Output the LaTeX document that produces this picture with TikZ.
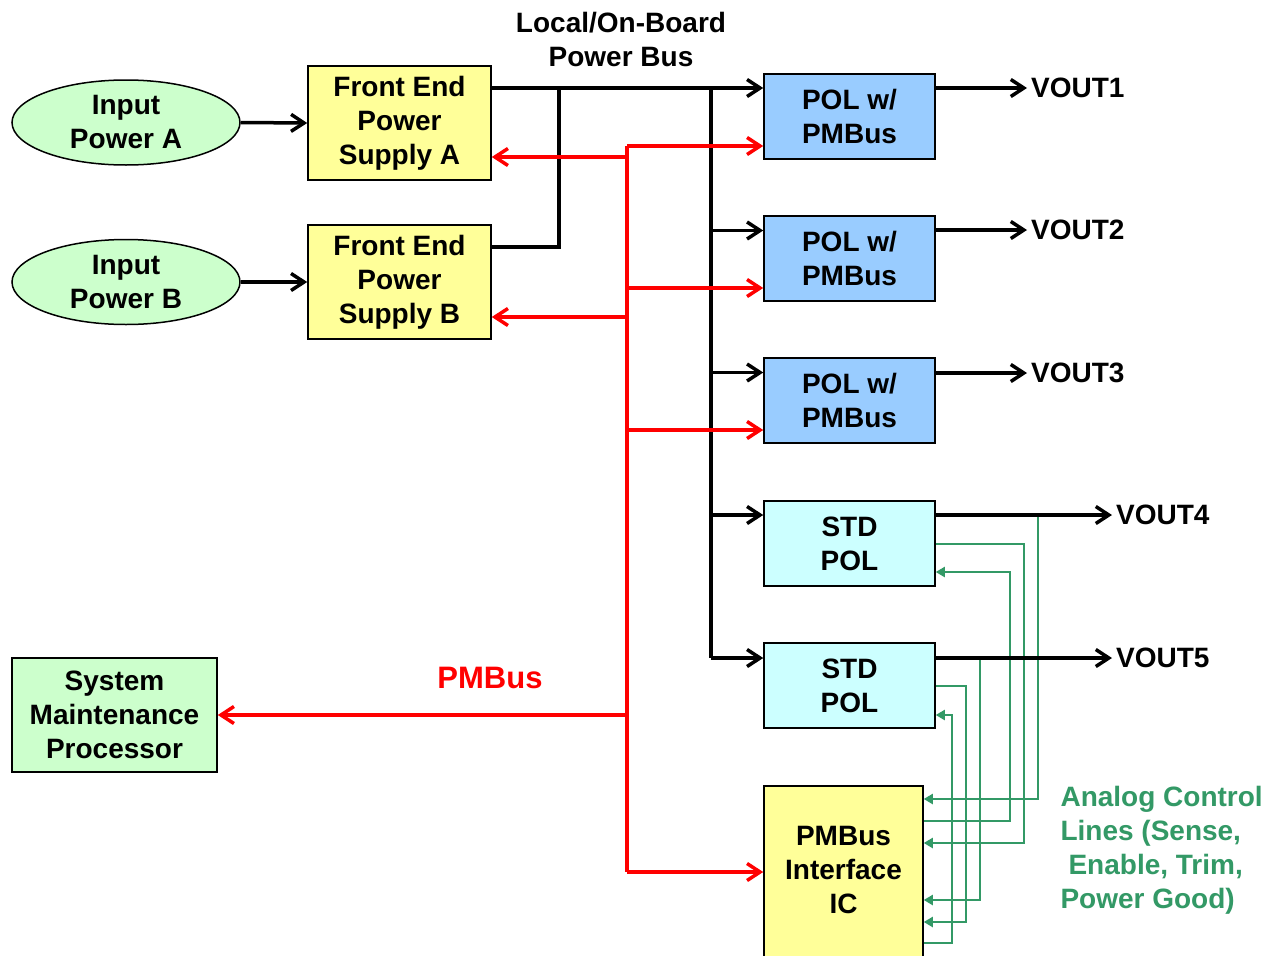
\documentclass[tikz,border=0pt]{standalone}
\usepackage{fontspec}
\setmainfont{Liberation Sans}
\usetikzlibrary{arrows.meta,shapes.geometric}
\definecolor{ingreen}{HTML}{CCFFCC}
\definecolor{feyellow}{HTML}{FFFF99}
\definecolor{polblue}{HTML}{99CCFF}
\definecolor{stdcyan}{HTML}{CCFFFF}
\definecolor{angreen}{HTML}{339966}
\definecolor{pmred}{HTML}{FF0000}
\begin{document}
\begin{tikzpicture}[x=1pt,y=-1pt,
  every node/.style={font=\fontsize{28}{34}\selectfont\bfseries, align=center},
  box/.style={draw, line width=1.5pt, inner sep=0pt},
  ellbox/.style={ellipse, draw, line width=1.5pt, fill=ingreen, minimum width=228pt, minimum height=85pt, inner sep=0pt},
  pbox/.style={box, fill=polblue, minimum width=171pt, minimum height=85pt},
  sbox/.style={box, fill=stdcyan, minimum width=171pt, minimum height=85pt},
  fbox/.style={box, fill=feyellow, minimum width=183pt, minimum height=114pt},
  bline/.style={line width=3.5pt, black},
  blk/.style={bline, -{Straight Barb[length=13pt,width=17pt,line width=3.5pt]}},
  rline/.style={line width=3.5pt, pmred},
  rarr/.style={rline, -{Straight Barb[length=13pt,width=17pt,line width=3.5pt]}},
  garr/.style={line width=2pt, angreen, -{Triangle[length=9pt,width=10pt]}},
  gline/.style={line width=2pt, angreen},
  vlbl/.style={anchor=west, inner sep=4pt}
]
\clip (0,0) rectangle (1270,956);
\fill[white] (0,0) rectangle (1270,956);

% nodes
\node[ellbox] (ina) at (126,122.5) {Input\\Power A};
\node[ellbox] (inb) at (126,282) {Input\\Power B};
\node[fbox] (fea) at (399.5,123) {Front End\\Power\\Supply A};
\node[fbox] (feb) at (399.5,282) {Front End\\Power\\Supply B};
\node[pbox] (pol1) at (849.5,116.5) {POL w/\\PMBus};
\node[pbox] (pol2) at (849.5,258.5) {POL w/\\PMBus};
\node[pbox] (pol3) at (849.5,400.5) {POL w/\\PMBus};
\node[sbox] (std1) at (849.5,543.5) {STD\\POL};
\node[sbox] (std2) at (849.5,685.5) {STD\\POL};
\node[box, fill=feyellow, minimum width=159pt, minimum height=194pt] (ic) at (843.5,883) {};
\node (ictext) at (843.5,870) {PMBus\\Interface\\IC};
\node[box, fill=ingreen, minimum width=205pt, minimum height=114pt] (smp) at (114.5,715) {System\\Maintenance\\Processor};

\node (busl) at (621,39) {Local/On-Board\\Power Bus};
\node[text=pmred, font=\fontsize{31}{36}\selectfont\bfseries] (pmb) at (490,678) {PMBus};
\node[text=angreen, anchor=west, align=left] (anl) at (1057,850.5) {Analog Control\\Lines (Sense,\\\hspace{8pt}Enable, Trim,\\Power Good)};

\node[vlbl] (vo1) at (1027,88) {VOUT1};
\node[vlbl] (vo2) at (1027,230) {VOUT2};
\node[vlbl] (vo3) at (1027,373) {VOUT3};
\node[vlbl] (vo4) at (1112,515) {VOUT4};
\node[vlbl] (vo5) at (1112,658) {VOUT5};

% input arrows
\draw[blk] (ina.east) -- (fea.west);
\draw[blk] (inb.east) -- (feb.west);

% local bus
\coordinate (feaout) at ([yshift=35pt]fea.east);
\coordinate (febout) at ([yshift=35pt]feb.east);
\coordinate (j1) at (559,88);
\coordinate (busTop) at (711,88);
\coordinate (busBot) at (711,658);
\coordinate (p1in) at ([yshift=28.5pt]pol1.west);
\coordinate (p2in) at ([yshift=28pt]pol2.west);
\coordinate (p3in) at ([yshift=28pt]pol3.west);
\coordinate (s1in) at ([yshift=28.5pt]std1.west);
\coordinate (s2in) at ([yshift=27.5pt]std2.west);
\draw[blk] (feaout) -- (p1in);
\draw[bline] (febout) -| (j1);
\draw[bline] (busTop) -- (busBot);
\draw[blk] (busTop |- p2in) -- (p2in);
\draw[blk] (busTop |- p3in) -- (p3in);
\draw[blk] (busTop |- s1in) -- (s1in);
\draw[blk] (busTop |- s2in) -- (s2in);

% PMBus (red)
\coordinate (rTop) at (627,146);
\coordinate (rBot) at (627,872);
\coordinate (feain) at ([yshift=-34pt]fea.east);
\coordinate (febin) at ([yshift=-35pt]feb.east);
\coordinate (p2r) at ([yshift=-29.5pt]pol2.west);
\coordinate (p3r) at ([yshift=-29.5pt]pol3.west);
\coordinate (icr) at ([yshift=11pt]ic.west);
\draw[rline] (rTop) -- (rBot);
\draw[rarr] (rTop) -- (rTop -| pol1.west);
\draw[rarr] (rTop |- feain) -- (feain);
\draw[rarr] (rTop |- p2r) -- (p2r);
\draw[rarr] (rTop |- febin) -- (febin);
\draw[rarr] (rTop |- p3r) -- (p3r);
\draw[rarr] (rTop |- smp.east) -- (smp.east);
\draw[rarr] (rBot) -- (icr);

% analog control lines (green)
\coordinate (g1a) at (1038,515);
\coordinate (g1b) at (1038,799);
\coordinate (g2) at (1024,843);
\coordinate (g3) at (1010,821);
\coordinate (g3in) at ([yshift=-28.5pt]std1.east);
\coordinate (g4a) at (980,658);
\coordinate (g4b) at (980,900);
\coordinate (g5) at (966,922);
\coordinate (g6) at (952,943);
\coordinate (g6in) at ([yshift=-29.5pt]std2.east);
\draw[garr] (g1a) -- (g1b) -- (ic.east |- g1b);
\draw[garr] (std1.east) -| (g2) -- (ic.east |- g2);
\draw[garr] (ic.east |- g3) -- (g3) |- (g3in);
\draw[garr] (g4a) -- (g4b) -- (ic.east |- g4b);
\draw[garr] (std2.east) -| (g5) -- (ic.east |- g5);
\draw[garr] (ic.east |- g6) -- (g6) |- (g6in);

% outputs
\draw[blk] ([yshift=28.5pt]pol1.east) -- (vo1.west);
\draw[blk] ([yshift=28.5pt]pol2.east) -- (vo2.west);
\draw[blk] ([yshift=27.5pt]pol3.east) -- (vo3.west);
\draw[blk] ([yshift=28.5pt]std1.east) -- (vo4.west);
\draw[blk] ([yshift=27.5pt]std2.east) -- (vo5.west);
\end{tikzpicture}
\end{document}
